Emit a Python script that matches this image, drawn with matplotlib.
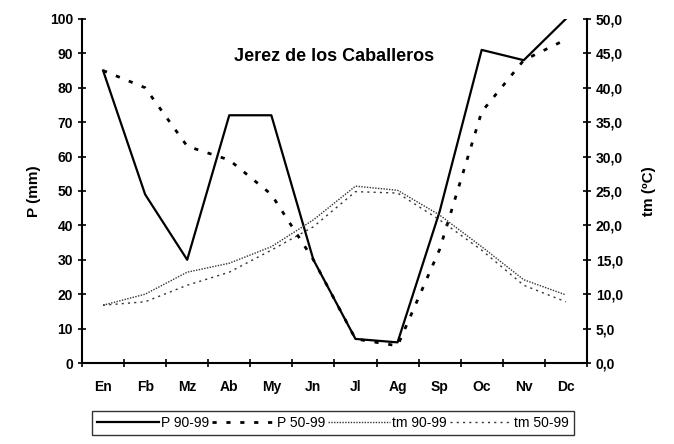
import matplotlib
matplotlib.use("Agg")
import matplotlib.pyplot as plt
from matplotlib.ticker import FuncFormatter

months = ["En", "Fb", "Mz", "Ab", "My", "Jn", "Jl", "Ag", "Sp", "Oc", "Nv", "Dc"]
p_90_99 = [85, 49, 30, 72, 72, 30, 7, 6, 44, 91, 88, 100]
p_50_99 = [85, 80, 63, 59, 49, 30, 7, 5, 33, 73, 88, 94]
tm_90_99 = [8.4, 10.0, 13.2, 14.5, 16.9, 20.8, 25.7, 25.1, 21.5, 16.9, 12.1, 9.9]
tm_50_99 = [8.4, 8.9, 11.3, 13.2, 16.4, 19.8, 24.9, 24.7, 20.8, 16.4, 11.3, 8.9]

plt.rcParams['font.family'] = ['Liberation Sans', 'DejaVu Sans']
plt.rcParams['font.weight'] = 'bold'

fig = plt.figure(figsize=(6.74, 4.44), dpi=100)
ax = fig.add_axes([0.1217, 0.1824, 0.749, 0.775])
ax2 = ax.twinx()

x = list(range(len(months)))
l1, = ax.plot(x, p_90_99, color="black", lw=1.6, ls="-")
l2, = ax.plot(x, p_50_99, color="black", lw=2.0, ls=(0, (1.5, 3.5)))
l3, = ax2.plot(x, tm_90_99, color="#333333", lw=1.0, ls=(0, (1, 1)))
l4, = ax2.plot(x, tm_50_99, color="#333333", lw=1.0, ls=(0, (1.5, 3)))

ax.set_xlim(-0.5, 11.5)
ax.set_ylim(0, 100)
ax2.set_ylim(0, 50)
ax.set_yticks(range(0, 101, 10))
ax2.set_yticks(range(0, 51, 5))
ax2.yaxis.set_major_formatter(FuncFormatter(lambda v, p: f"{v:.1f}".replace(".", ",")))

ax.set_xticks([i - 0.5 for i in range(13)])
ax.set_xticklabels([])
ax.set_xticks(x, minor=True)
ax.set_xticklabels(months, minor=True)
ax.tick_params(axis="x", which="minor", length=0, pad=12, labelsize=10)
ax.tick_params(axis="x", which="major", direction="inout", length=6, width=1.2)
ax.tick_params(axis="y", direction="inout", length=6, width=1.2, labelsize=10)
ax2.tick_params(axis="y", direction="inout", length=6, width=1.2, labelsize=10)

for a in (ax, ax2):
    a.spines["top"].set_visible(False)
    for s in ("left", "right", "bottom"):
        a.spines[s].set_linewidth(1.5)
ax.spines["right"].set_visible(False)
ax2.spines["left"].set_visible(False)
ax2.spines["bottom"].set_visible(False)

ax.set_ylabel("P (mm)", fontsize=11, fontweight="bold", labelpad=6)
ax2.set_ylabel("tm (ºC)", fontsize=11, fontweight="bold", labelpad=14, rotation=90)

ax.text(0.5, 0.89, "Jerez de los Caballeros", transform=ax.transAxes,
        ha="center", va="center", fontsize=13, fontweight="bold")

leg = fig.legend([l1, l2, l3, l4], ["P 90-99", "P 50-99", "tm 90-99", "tm 50-99"],
                 loc="center", bbox_to_anchor=(0.494, 0.047), ncol=4,
                 frameon=True, fancybox=False, edgecolor="black",
                 handlelength=4.5, handletextpad=0.15, columnspacing=0.2,
                 borderpad=0.35, prop={"size": 10, "weight": "normal"})
leg.get_frame().set_linewidth(1.0)

fig.savefig("out.png", dpi=100)
